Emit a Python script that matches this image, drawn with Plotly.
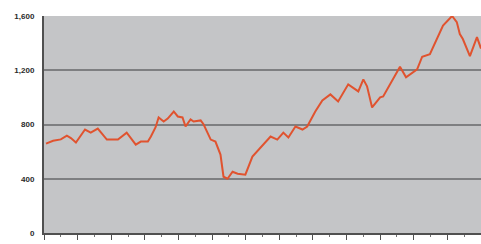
import plotly.graph_objects as go

years = [1996.06, 1996.27, 1996.50, 1996.68, 1996.80, 1996.95, 1997.22, 1997.39, 1997.60, 1997.87,
         1998.20, 1998.46, 1998.73, 1998.88, 1999.09, 1999.18, 1999.32, 1999.41, 1999.56, 1999.68,
         1999.86, 1999.98, 2000.12, 2000.21, 2000.36, 2000.45, 2000.66, 2000.75, 2000.96, 2001.10,
         2001.25, 2001.34, 2001.46, 2001.61, 2001.76, 2001.99, 2002.20, 2002.44, 2002.74, 2002.94,
         2003.12, 2003.27, 2003.48, 2003.69, 2003.83, 2004.07, 2004.28, 2004.52, 2004.75, 2005.05,
         2005.35, 2005.50, 2005.61, 2005.76, 2006.00, 2006.09, 2006.39, 2006.59, 2006.77, 2007.10,
         2007.25, 2007.48, 2007.87, 2008.14, 2008.28, 2008.37, 2008.46, 2008.67, 2008.88, 2009.00]
values = [659, 680, 690, 718, 700, 667, 763, 740, 770, 689,
          689, 740, 652, 674, 674, 711, 780, 852, 822, 844,
          896, 859, 852, 785, 837, 822, 830, 800, 689, 674,
          578, 415, 400, 452, 437, 430, 563, 630, 711, 689,
          740, 704, 785, 763, 785, 896, 978, 1022, 970, 1096,
          1044, 1133, 1081, 926, 1000, 1007, 1133, 1225, 1148, 1207,
          1300, 1318, 1530, 1600, 1555, 1467, 1430, 1304, 1444, 1360]
x_ticks = list(range(1996, 2010))
x_labels = [str(y) for y in x_ticks]
y_ticks = [0, 400, 800, 1200, 1600]
y_labels = ["0", "400", "800", "1,200", "1,600"]

fig = go.Figure()
fig.add_trace(go.Scatter(x=years, y=values, mode="lines",
                         line=dict(color="#e0532f", width=2), hoverinfo="skip"))

fig.update_layout(
    width=481, height=244,
    margin=dict(l=44, r=0, t=16, b=11),
    paper_bgcolor="white", plot_bgcolor="#c4c5c7",
    showlegend=False,
    font=dict(family="Liberation Sans, Arial, sans-serif", color="#2a2a2a"),
)
fig.update_xaxes(range=[1996.0, 2009.0], tickvals=x_ticks, ticktext=x_labels, automargin=False,
                 showgrid=False, zeroline=False, showline=True, linecolor="#505050", linewidth=2,
                 ticks="outside", ticklen=5, tickcolor="#505050", tickwidth=1,
                 minor=dict(ticks="outside", ticklen=2, tickcolor="#707070", dtick=0.5, tick0=1996),
                 tickfont=dict(size=9, family="Liberation Sans", color="#2a2a2a", weight="bold"))
fig.update_yaxes(range=[0, 1600], tickvals=y_ticks, ticktext=y_labels, automargin=False,
                 showgrid=True, gridcolor="#7e7f81", gridwidth=1.5, zeroline=False,
                 showline=True, linecolor="#505050", linewidth=2,
                 ticks="", ticklabelstandoff=6,
                 tickfont=dict(size=8, family="Liberation Sans", color="#2a2a2a", weight="bold"))

fig.write_html("out.html", config={"displayModeBar": False},
               post_script="document.body.style.margin='0';document.body.style.overflow='hidden';")
